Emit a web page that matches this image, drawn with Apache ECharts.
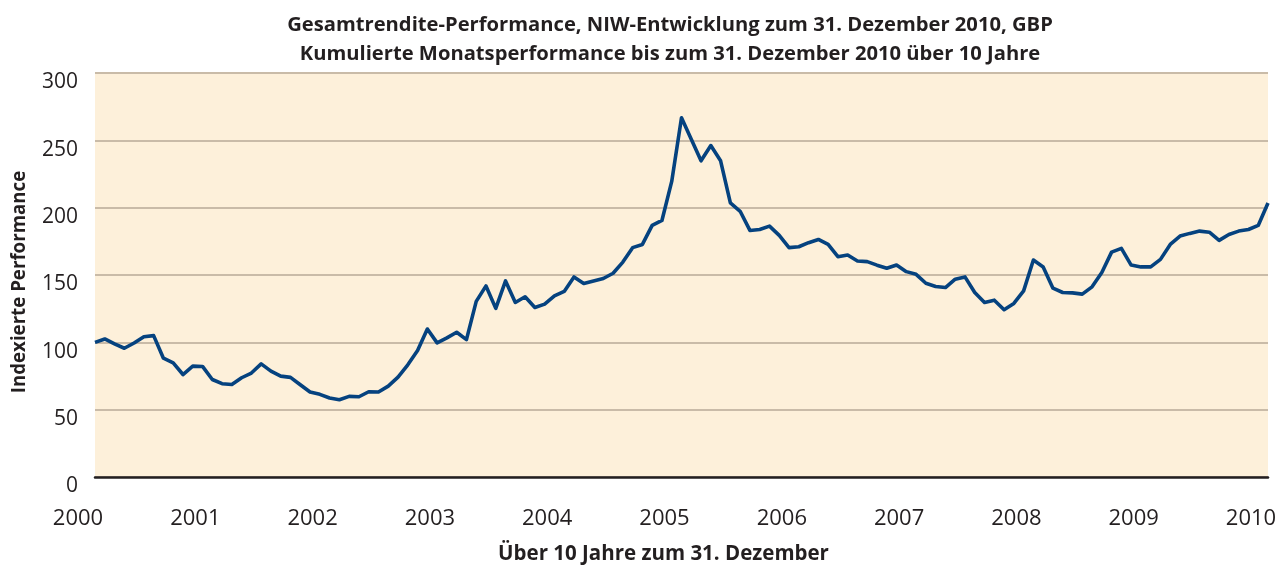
<!DOCTYPE html>
<html>
<head>
<meta charset="utf-8">
<title>Gesamtrendite-Performance</title>
<script src="https://cdn.jsdelivr.net/npm/echarts@6/dist/echarts.min.js"></script>
<style>
  html, body { margin: 0; padding: 0; background: #ffffff; }
  #chart { width: 1280px; height: 570px; }
</style>
</head>
<body>
<div id="chart"></div>
<script>
// Year tick labels along the time axis
var years = ['2000', '2001', '2002', '2003', '2004', '2005', '2006', '2007', '2008', '2009', '2010'];
var monthsPerYear = 12;

// Indexed total-return performance (start = 100), one value per month
var indexValues = [
  100.0, 102.5, 98.8, 95.6, 99.5, 104.2, 105.0, 88.2, 84.8, 76.1, 82.3, 82.1,
  72.4, 69.3, 68.7, 73.7, 77.2, 84.0, 78.6, 74.9, 74.0, 68.5, 63.1, 61.4,
  58.7, 57.4, 59.9, 59.6, 63.3, 63.1, 67.5, 74.2, 83.3, 93.9, 109.9, 99.6,
  103.3, 107.5, 102.0, 130.4, 141.9, 125.2, 145.6, 129.6, 133.8, 125.9, 128.4, 134.5,
  137.8, 148.6, 143.7, 145.6, 147.4, 151.3, 159.6, 170.3, 172.7, 186.8, 190.5, 219.5,
  266.8, 250.8, 234.8, 246.1, 234.8, 203.5, 197.3, 183.1, 183.8, 186.3, 179.4, 170.3,
  171.0, 174.0, 176.4, 172.7, 163.6, 164.8, 160.4, 159.9, 157.3, 155.0, 157.4, 152.5,
  150.5, 143.9, 141.5, 140.7, 146.9, 148.6, 137.0, 129.6, 131.3, 124.2, 128.9, 138.2,
  161.1, 156.0, 140.2, 137.0, 136.7, 135.8, 141.2, 151.8, 167.0, 169.8, 157.4, 156.0,
  156.0, 161.6, 172.7, 178.9, 180.9, 182.6, 181.8, 175.7, 180.1, 182.6, 183.8, 186.8,
  203.5
];

// Category axis: one slot per monthly observation
var categories = indexValues.map(function (v, i) { return String(i); });

var chart = echarts.init(document.getElementById('chart'), null, { renderer: 'canvas' });

var textColor = '#231f20';

chart.setOption({
  animation: false,
  backgroundColor: '#ffffff',
  title: {
    text: 'Gesamtrendite-Performance, NIW-Entwicklung zum 31. Dezember 2010, GBP\nKumulierte Monatsperformance bis zum 31. Dezember 2010 über 10 Jahre',
    left: 665,
    top: 6,
    textAlign: 'center',
    textStyle: {
      fontFamily: 'Open Sans',
      fontWeight: 'bold',
      fontSize: 20.2,
      lineHeight: 29,
      color: textColor
    }
  },
  grid: {
    left: 95,
    right: 12,
    top: 73,
    bottom: 92,
    show: true,
    backgroundColor: '#fdf0da',
    borderWidth: 0
  },
  xAxis: {
    type: 'category',
    data: categories,
    boundaryGap: false,
    name: 'Über 10 Jahre zum 31. Dezember',
    nameLocation: 'middle',
    nameGap: 67,
    nameTextStyle: {
      fontFamily: 'Open Sans',
      fontWeight: 'bold',
      fontSize: 20.5,
      color: textColor,
      padding: [0, 36, 0, 0]
    },
    axisLine: { show: true, lineStyle: { color: '#231f20', width: 2.5 } },
    axisTick: { show: false },
    splitLine: { show: false },
    axisLabel: {
      interval: monthsPerYear - 1,
      margin: 31,
      padding: [0, 34, 0, 0],
      fontFamily: 'Open Sans',
      fontSize: 22,
      color: textColor,
      formatter: function (value, idx) {
        return years[Math.round(idx / monthsPerYear)] || '';
      }
    }
  },
  yAxis: {
    type: 'value',
    min: 0,
    max: 300,
    interval: 50,
    name: 'Indexierte Performance',
    nameLocation: 'middle',
    nameRotate: 90,
    nameGap: 66,
    nameTextStyle: {
      fontFamily: 'Open Sans',
      fontWeight: 'bold',
      fontSize: 18.7,
      color: textColor,
      padding: [0, 14, 0, 0]
    },
    axisLine: { show: false },
    axisTick: { show: false },
    axisLabel: {
      margin: 17,
      verticalAlign: 'top',
      lineHeight: 19,
      fontFamily: 'Open Sans',
      fontSize: 21,
      color: textColor
    },
    splitLine: {
      show: true,
      lineStyle: { color: '#c9bba8', width: 1.8 }
    }
  },
  series: [{
    type: 'line',
    data: indexValues,
    symbol: 'none',
    lineStyle: { color: '#05427f', width: 3.6, join: 'round' },
    z: 3
  }]
});
</script>
</body>
</html>
